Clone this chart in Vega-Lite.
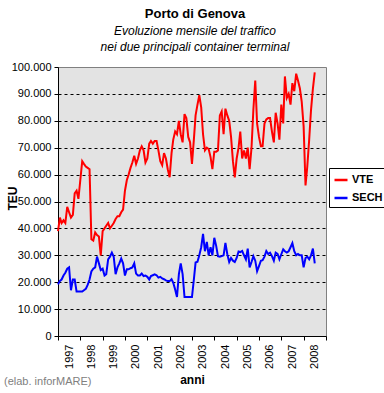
{
  "$schema": "https://vega.github.io/schema/vega-lite/v6.json",
  "width": 268,
  "height": 269,
  "autosize": "none",
  "padding": {"left": 58, "top": 67, "right": 58, "bottom": 57},
  "background": "white",
  "config": {
    "font": "Liberation Sans",
    "view": {"fill": "#e3e3e3", "stroke": "#808080", "strokeWidth": 1}
  },
  "title": {
    "text": "Porto di Genova",
    "subtitle": ["Evoluzione mensile del traffico", "nei due principali container terminal"],
    "font": "Liberation Sans",
    "subtitleFont": "Liberation Sans",
    "fontSize": 13,
    "fontWeight": "bold",
    "color": "black",
    "subtitleFontSize": 12,
    "subtitleFontStyle": "italic",
    "subtitleColor": "black",
    "subtitlePadding": 5,
    "subtitleLineHeight": 16,
    "anchor": "middle",
    "dx": 3,
    "offset": 8
  },
  "resolve": {"axis": {"x": "independent", "y": "independent"}},
  "layer": [
    {
      "data": {
        "values": [
          {"d":"1997-01-01","VTE":39000,"SECH":19200},{"d":"1997-02-01","VTE":44000,"SECH":20500},{"d":"1997-03-01","VTE":42000,"SECH":21000},{"d":"1997-04-01","VTE":43000,"SECH":22500},{"d":"1997-05-01","VTE":42000,"SECH":23500},{"d":"1997-06-01","VTE":48000,"SECH":25000},{"d":"1997-07-01","VTE":46000,"SECH":25500},{"d":"1997-08-01","VTE":44000,"SECH":17000},{"d":"1997-09-01","VTE":45000,"SECH":21000},{"d":"1997-10-01","VTE":53000,"SECH":21000},{"d":"1997-11-01","VTE":54000,"SECH":16500},{"d":"1997-12-01","VTE":51000,"SECH":16500},
          {"d":"1998-01-01","VTE":58000,"SECH":16500},{"d":"1998-02-01","VTE":65000,"SECH":16500},{"d":"1998-03-01","VTE":64000,"SECH":17000},{"d":"1998-04-01","VTE":63000,"SECH":17500},{"d":"1998-05-01","VTE":62500,"SECH":19000},{"d":"1998-06-01","VTE":62000,"SECH":21000},{"d":"1998-07-01","VTE":36000,"SECH":24000},{"d":"1998-08-01","VTE":35500,"SECH":25000},{"d":"1998-09-01","VTE":38500,"SECH":25500},{"d":"1998-10-01","VTE":37500,"SECH":29500},{"d":"1998-11-01","VTE":37000,"SECH":27000},{"d":"1998-12-01","VTE":30000,"SECH":24500},
          {"d":"1999-01-01","VTE":39000,"SECH":25000},{"d":"1999-02-01","VTE":40000,"SECH":22500},{"d":"1999-03-01","VTE":41000,"SECH":23000},{"d":"1999-04-01","VTE":42000,"SECH":28500},{"d":"1999-05-01","VTE":40000,"SECH":29500},{"d":"1999-06-01","VTE":41000,"SECH":31000},{"d":"1999-07-01","VTE":42000,"SECH":29500},{"d":"1999-08-01","VTE":43500,"SECH":23000},{"d":"1999-09-01","VTE":44500,"SECH":25500},{"d":"1999-10-01","VTE":44500,"SECH":27000},{"d":"1999-11-01","VTE":46000,"SECH":28800},{"d":"1999-12-01","VTE":47000,"SECH":27000},
          {"d":"2000-01-01","VTE":54000,"SECH":22500},{"d":"2000-02-01","VTE":58000,"SECH":24800},{"d":"2000-03-01","VTE":60000,"SECH":24800},{"d":"2000-04-01","VTE":62500,"SECH":25200},{"d":"2000-05-01","VTE":64500,"SECH":25500},{"d":"2000-06-01","VTE":67000,"SECH":27000},{"d":"2000-07-01","VTE":64000,"SECH":23200},{"d":"2000-08-01","VTE":66000,"SECH":22500},{"d":"2000-09-01","VTE":69000,"SECH":22500},{"d":"2000-10-01","VTE":70500,"SECH":23200},{"d":"2000-11-01","VTE":69000,"SECH":22300},{"d":"2000-12-01","VTE":64500,"SECH":22500},
          {"d":"2001-01-01","VTE":66000,"SECH":22000},{"d":"2001-02-01","VTE":71500,"SECH":21000},{"d":"2001-03-01","VTE":72500,"SECH":22300},{"d":"2001-04-01","VTE":71500,"SECH":22600},{"d":"2001-05-01","VTE":72500,"SECH":22900},{"d":"2001-06-01","VTE":72500,"SECH":22600},{"d":"2001-07-01","VTE":69000,"SECH":21700},{"d":"2001-08-01","VTE":65000,"SECH":22000},{"d":"2001-09-01","VTE":63500,"SECH":21400},{"d":"2001-10-01","VTE":68000,"SECH":21100},{"d":"2001-11-01","VTE":66000,"SECH":20700},{"d":"2001-12-01","VTE":62000,"SECH":20400},
          {"d":"2002-01-01","VTE":59000,"SECH":20400},{"d":"2002-02-01","VTE":68000,"SECH":21100},{"d":"2002-03-01","VTE":73000,"SECH":19800},{"d":"2002-04-01","VTE":76000,"SECH":17300},{"d":"2002-05-01","VTE":75000,"SECH":14500},{"d":"2002-06-01","VTE":80000,"SECH":23000},{"d":"2002-07-01","VTE":75000,"SECH":27000},{"d":"2002-08-01","VTE":72000,"SECH":23000},{"d":"2002-09-01","VTE":82500,"SECH":14500},{"d":"2002-10-01","VTE":81000,"SECH":14500},{"d":"2002-11-01","VTE":74000,"SECH":14500},{"d":"2002-12-01","VTE":72000,"SECH":14500},
          {"d":"2003-01-01","VTE":64000,"SECH":14500},{"d":"2003-02-01","VTE":73000,"SECH":21000},{"d":"2003-03-01","VTE":82000,"SECH":27300},{"d":"2003-04-01","VTE":86000,"SECH":27600},{"d":"2003-05-01","VTE":89500,"SECH":30000},{"d":"2003-06-01","VTE":85000,"SECH":33000},{"d":"2003-07-01","VTE":75000,"SECH":38000},{"d":"2003-08-01","VTE":69000,"SECH":31500},{"d":"2003-09-01","VTE":70000,"SECH":35000},{"d":"2003-10-01","VTE":69500,"SECH":30000},{"d":"2003-11-01","VTE":66500,"SECH":33000},{"d":"2003-12-01","VTE":62000,"SECH":30000},
          {"d":"2004-01-01","VTE":68500,"SECH":36500},{"d":"2004-02-01","VTE":68500,"SECH":33500},{"d":"2004-03-01","VTE":69000,"SECH":29700},{"d":"2004-04-01","VTE":82000,"SECH":29500},{"d":"2004-05-01","VTE":83500,"SECH":29700},{"d":"2004-06-01","VTE":75000,"SECH":30000},{"d":"2004-07-01","VTE":84500,"SECH":34600},{"d":"2004-08-01","VTE":82000,"SECH":30400},{"d":"2004-09-01","VTE":80000,"SECH":27500},{"d":"2004-10-01","VTE":74000,"SECH":29000},{"d":"2004-11-01","VTE":65000,"SECH":28000},{"d":"2004-12-01","VTE":59000,"SECH":27500},
          {"d":"2005-01-01","VTE":66000,"SECH":29000},{"d":"2005-02-01","VTE":70000,"SECH":31400},{"d":"2005-03-01","VTE":76000,"SECH":31200},{"d":"2005-04-01","VTE":66000,"SECH":31600},{"d":"2005-05-01","VTE":69000,"SECH":30000},{"d":"2005-06-01","VTE":66000,"SECH":28500},{"d":"2005-07-01","VTE":70000,"SECH":32500},{"d":"2005-08-01","VTE":62000,"SECH":25500},{"d":"2005-09-01","VTE":70000,"SECH":27500},{"d":"2005-10-01","VTE":84000,"SECH":29700},{"d":"2005-11-01","VTE":95000,"SECH":28000},{"d":"2005-12-01","VTE":79000,"SECH":24100},
          {"d":"2006-01-01","VTE":74000,"SECH":26000},{"d":"2006-02-01","VTE":70500,"SECH":28000},{"d":"2006-03-01","VTE":70500,"SECH":28200},{"d":"2006-04-01","VTE":79000,"SECH":29500},{"d":"2006-05-01","VTE":80500,"SECH":31600},{"d":"2006-06-01","VTE":81000,"SECH":30500},{"d":"2006-07-01","VTE":81000,"SECH":31000},{"d":"2006-08-01","VTE":76000,"SECH":29700},{"d":"2006-09-01","VTE":72000,"SECH":28000},{"d":"2006-10-01","VTE":83000,"SECH":31000},{"d":"2006-11-01","VTE":79000,"SECH":30500},{"d":"2006-12-01","VTE":73000,"SECH":28500},
          {"d":"2007-01-01","VTE":86000,"SECH":30400},{"d":"2007-02-01","VTE":79000,"SECH":32200},{"d":"2007-03-01","VTE":96500,"SECH":31500},{"d":"2007-04-01","VTE":88500,"SECH":31000},{"d":"2007-05-01","VTE":90000,"SECH":31500},{"d":"2007-06-01","VTE":86000,"SECH":33000},{"d":"2007-07-01","VTE":94000,"SECH":34500},{"d":"2007-08-01","VTE":91000,"SECH":31500},{"d":"2007-09-01","VTE":97500,"SECH":30000},{"d":"2007-10-01","VTE":95000,"SECH":30500},{"d":"2007-11-01","VTE":92000,"SECH":30000},{"d":"2007-12-01","VTE":87000,"SECH":30000},
          {"d":"2008-01-01","VTE":78000,"SECH":25500},{"d":"2008-02-01","VTE":56000,"SECH":29000},{"d":"2008-03-01","VTE":63000,"SECH":29500},{"d":"2008-04-01","VTE":73000,"SECH":28500},{"d":"2008-05-01","VTE":84000,"SECH":30000},{"d":"2008-06-01","VTE":92000,"SECH":32500},{"d":"2008-07-01","VTE":98000,"SECH":27000}
        ]
      },
      "transform": [{"fold": ["VTE", "SECH"], "as": ["serie", "teu"]}],
      "mark": {"type": "line", "strokeWidth": 2, "interpolate": "linear"},
      "encoding": {
        "x": {
          "field": "d",
          "type": "temporal",
          "scale": {"type": "utc", "domain": [{"year": 1997, "month": 1, "date": 1, "utc": true}, {"year": 2009, "month": 1, "date": 1, "utc": true}]},
          "axis": {
            "title": "anni",
            "titleFontWeight": "bold",
            "titleFontSize": 12,
            "titleColor": "black",
            "titleBaseline": "middle",
            "titleY": 43,
            "values": [
              {"year": 1997, "month": 1, "date": 1, "utc": true},{"year": 1998, "month": 1, "date": 1, "utc": true},{"year": 1999, "month": 1, "date": 1, "utc": true},{"year": 2000, "month": 1, "date": 1, "utc": true},{"year": 2001, "month": 1, "date": 1, "utc": true},{"year": 2002, "month": 1, "date": 1, "utc": true},{"year": 2003, "month": 1, "date": 1, "utc": true},{"year": 2004, "month": 1, "date": 1, "utc": true},{"year": 2005, "month": 1, "date": 1, "utc": true},{"year": 2006, "month": 1, "date": 1, "utc": true},{"year": 2007, "month": 1, "date": 1, "utc": true},{"year": 2008, "month": 1, "date": 1, "utc": true},{"year": 2009, "month": 1, "date": 1, "utc": true}
            ],
            "labelExpr": "utcyear(datum.value) == 2009 ? '' : utcFormat(datum.value, '%Y')",
            "labelAngle": 270,
            "labelAlign": "right",
            "labelBaseline": "middle",
            "labelOffset": 11,
            "labelPadding": 4,
            "labelFontSize": 11,
            "labelColor": "black",
            "labelFlush": false,
            "labelOverlap": false,
            "grid": false,
            "domainColor": "black",
            "tickColor": "black",
            "tickSize": 4
          }
        },
        "y": {
          "field": "teu",
          "type": "quantitative",
          "scale": {"domain": [0, 100000], "nice": false},
          "axis": {
            "title": "TEU",
            "titleFontWeight": "bold",
            "titleFontSize": 12,
            "titleColor": "black",
            "titleAngle": 270,
            "titleAlign": "center",
            "titleBaseline": "middle",
            "titleX": -46,
            "titleY": 131,
            "values": [0, 10000, 20000, 30000, 40000, 50000, 60000, 70000, 80000, 90000, 100000],
            "labelExpr": "replace(format(datum.value, ','), ',', '.')",
            "labelFontSize": 11,
            "labelColor": "black",
            "labelPadding": 3,
            "labelOverlap": false,
            "tickColor": "black",
            "tickSize": 4,
            "domainColor": "black",
            "grid": true,
            "gridColor": "black",
            "gridDash": [3, 3],
            "gridOpacity": {"condition": {"test": "datum.value == 100000 || datum.value == 0", "value": 0}, "value": 1}
          }
        },
        "color": {
          "field": "serie",
          "type": "nominal",
          "scale": {"domain": ["VTE", "SECH"], "range": ["#ff0000", "#0000ff"]},
          "legend": {
            "title": null,
            "orient": "none",
            "legendX": 271,
            "legendY": 101,
            "fillColor": "white",
            "strokeColor": "black",
            "padding": 4,
            "rowPadding": 5,
            "labelFontSize": 11,
            "labelFontWeight": "bold",
            "labelColor": "black",
            "labelOffset": 3,
            "symbolType": "stroke",
            "symbolSize": 169,
            "symbolStrokeWidth": 2.5
          }
        }
      }
    },
    {
      "data": {"values": [{"note": "(elab. inforMARE)"}]},
      "mark": {"type": "text", "align": "left", "baseline": "alphabetic", "fontSize": 11, "color": "#808080", "dx": -54, "dy": 49},
      "encoding": {
        "x": {"datum": {"year": 1997, "month": 1, "date": 1, "utc": true}, "type": "temporal", "axis": null},
        "y": {"datum": 0, "type": "quantitative", "axis": null},
        "text": {"field": "note"}
      }
    }
  ]
}
